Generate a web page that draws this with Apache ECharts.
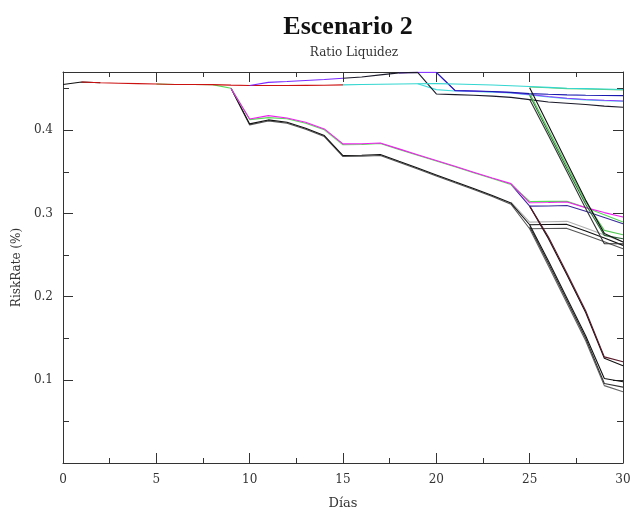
<!DOCTYPE html>
<html>
<head>
<meta charset="utf-8">
<script src="https://cdn.jsdelivr.net/npm/echarts@6/dist/echarts.min.js"></script>
<style>html,body{margin:0;padding:0;background:#fff}#c{width:643px;height:511px}</style>
</head>
<body>
<div id="c"></div>
<script>
var N = null;
var days = [0,1,2,3,4,5,6,7,8,9,10,11,12,13,14,15,16,17,18,19,20,21,22,23,24,25,26,27,28,29,30];
var xTicks = [0,5,10,15,20,25,30];
var yTicks = [0.1,0.2,0.3,0.4];

// common start (black) and top red branch
var blackStart = [0.455,0.458,0.457,N,N,N,N,N,N,N,N,N,N,N,N,N,N,N,N,N,N,N,N,N,N,N,N,N,N,N,N];
var redTop = [N,0.458,0.457,0.4565,0.456,0.4555,0.455,0.455,0.4548,0.4542,0.4538,0.4538,0.4538,0.4539,0.454,0.4545,N,N,N,N,N,N,N,N,N,N,N,N,N,N,N];
// middle group (drops at day 9-10)
var greenMid = [N,N,N,N,N,0.4555,0.455,0.455,0.4548,0.4504,0.4128,0.4152,0.4138,0.4085,0.4005,0.3826,0.3828,0.384,0.377,0.370,0.363,0.356,0.349,0.342,0.3348,0.3144,0.3145,0.3145,0.307,0.2985,0.2896];
var magentaMid = [N,N,N,N,N,N,N,N,N,0.4504,0.4136,0.4176,0.4148,0.4095,0.4016,0.3836,0.3838,0.3846,0.3776,0.3706,0.3636,0.3566,0.3496,0.3426,0.3358,0.3128,0.3132,0.3138,0.307,0.301,0.2956];
var purpleMid = [N,N,N,N,N,N,N,N,N,N,N,N,N,N,N,N,N,N,N,N,N,N,N,N,0.335,0.3088,0.309,0.3095,0.3025,0.295,0.2876];
var steepMu1 = [N,N,N,N,N,N,N,N,N,N,N,N,N,N,N,N,N,N,N,N,N,N,N,N,N,0.3088,0.272,0.228,0.183,0.1276,0.1216];
var steepMu2 = [N,N,N,N,N,N,N,N,N,N,N,N,N,N,N,N,N,N,N,N,N,N,N,N,N,0.3088,0.270,0.226,0.181,0.126,0.1168];
var grayMid1 = [N,N,N,N,N,N,N,N,N,0.4504,0.4076,0.4124,0.4096,0.4025,0.3936,0.3696,0.370,0.3708,0.3626,0.3545,0.3463,0.338,0.330,0.3215,0.3125,0.2864,0.2866,0.2868,0.279,0.2705,0.2616];
var grayMid2 = [N,N,N,N,N,N,N,N,N,0.4504,0.4064,0.4112,0.4084,0.4013,0.3924,0.3684,0.3688,0.3696,0.3614,0.3533,0.3451,0.3368,0.3288,0.3203,0.311,0.2816,0.2818,0.282,0.274,0.266,0.2576];
var grayMid3 = [N,N,N,N,N,N,N,N,N,N,N,N,N,N,N,N,N,N,N,N,N,N,N,N,0.3135,0.2896,0.290,0.2905,0.2825,0.274,0.266];
var steepMl1 = [N,N,N,N,N,N,N,N,N,N,N,N,N,N,N,N,N,N,N,N,N,N,N,N,N,0.2864,0.243,0.198,0.153,0.1016,0.0976];
var steepMl2 = [N,N,N,N,N,N,N,N,N,N,N,N,N,N,N,N,N,N,N,N,N,N,N,N,N,0.284,0.240,0.195,0.150,0.0956,0.0912];
var steepMl3 = [N,N,N,N,N,N,N,N,N,N,N,N,N,N,N,N,N,N,N,N,N,N,N,N,N,0.2816,0.237,0.192,0.147,0.093,0.0856];
// top group
var purpleTop = [N,N,N,N,N,N,N,N,N,N,0.4538,0.4575,0.4585,0.4598,0.461,0.4625,N,N,N,N,N,N,N,N,N,N,N,N,N,N,N];
var blackTop = [N,N,N,N,N,N,N,N,N,N,N,N,N,N,N,0.4625,0.464,0.4665,0.469,0.4695,0.4436,0.4428,0.442,0.441,0.4395,0.4368,0.434,0.4325,0.431,0.429,0.4276];
var purpleTop2 = [N,N,N,N,N,N,N,N,N,N,N,N,N,N,N,N,N,N,0.469,0.4695,0.4695,0.4476,0.447,0.4462,0.4452,0.443,0.4405,0.4385,0.437,0.436,0.4352];
var blueTop = [N,N,N,N,N,N,N,N,N,N,N,N,N,N,N,N,N,N,N,N,0.4695,0.4478,0.4472,0.4465,0.4455,0.444,0.4432,0.4425,0.442,0.4418,0.4416];
var cyanTop = [N,N,N,N,N,N,N,N,N,N,N,N,N,N,N,0.4545,0.455,0.4553,0.4556,0.4558,0.456,0.4555,0.455,0.4543,0.4535,0.4525,0.4515,0.4505,0.450,0.4495,0.449];
var greenTop = [N,N,N,N,N,N,N,N,N,N,N,N,N,N,N,N,N,N,N,N,N,N,N,N,N,0.452,0.451,0.450,0.4495,0.449,0.4485];
var cyan2Top = [N,N,N,N,N,N,N,N,N,N,N,N,N,N,N,N,N,N,N,0.4558,0.4488,0.4472,0.4465,0.4458,0.4448,0.4425,0.440,0.438,0.4365,0.4355,0.4348];
var steepT1 = [N,N,N,N,N,N,N,N,N,N,N,N,N,N,N,N,N,N,N,N,N,N,N,N,N,0.451,0.406,0.361,0.316,0.276,0.2656];
var steepT2 = [N,N,N,N,N,N,N,N,N,N,N,N,N,N,N,N,N,N,N,N,N,N,N,N,N,0.4445,0.401,0.357,0.314,0.2796,0.2744];
var steepT3 = [N,N,N,N,N,N,N,N,N,N,N,N,N,N,N,N,N,N,N,N,N,N,N,N,N,0.442,0.398,0.354,0.311,0.2736,0.2696];
var steepT4 = [N,N,N,N,N,N,N,N,N,N,N,N,N,N,N,N,N,N,N,N,N,N,N,N,N,0.437,0.394,0.350,0.306,0.2636,0.2636];

var lines = [
  [grayMid3,'#b0b0b0'],[grayMid2,'#555555'],[grayMid1,'#111111'],
  [steepMl3,'#666666'],[steepMl2,'#333333'],[steepMl1,'#111111'],
  [steepMu2,'#111111'],[steepMu1,'#5a1a2a'],
  [purpleMid,'#3a2a9a'],[greenMid,'#55dd55'],[magentaMid,'#ee22ee'],
  [blackStart,'#111111'],[redTop,'#cc1111'],[purpleTop,'#7a2aff'],
  [cyan2Top,'#44dddd'],[purpleTop2,'#8a3aff'],[blueTop,'#1a1ab0'],[blackTop,'#1a1a2a'],
  [greenTop,'#66cc66'],[cyanTop,'#33d6d0'],
  [steepT4,'#333333'],[steepT3,'#2a6a3a'],[steepT2,'#55cc55'],[steepT1,'#111111']
];

var series = lines.map(function(l){
  return {type:'line', xAxisIndex:0, yAxisIndex:0, symbol:'none', silent:true, animation:false,
    lineStyle:{color:l[1], width:1.1},
    data: days.map(function(d,i){ return [d, l[0][i]]; })};
});

var font = 'DejaVu Serif';
var axCol = '#333';
function xAx(pos, showLabel){
  return {type:'value', position:pos, min:0, max:30, interval:5,
    axisLine:{show:true, onZero:false, lineStyle:{color:axCol, width:1}},
    axisTick:{show:true, inside:true, length:10, lineStyle:{color:axCol}},
    minorTick:{show:true, splitNumber:2, length:5, lineStyle:{color:axCol}},
    splitLine:{show:false}, minorSplitLine:{show:false},
    axisLabel:{show:showLabel, fontFamily:font, fontSize:12, color:'#333', margin:11,
      formatter:function(v){ return xTicks.indexOf(v)>=0 ? String(v) : ''; }},
    name: showLabel ? 'Días' : '', nameLocation:'middle', nameGap:34,
    nameTextStyle:{fontFamily:font, fontSize:13, color:'#333'}};
}
function yAx(pos, major, showLabel){
  var ax = {type:'value', position:pos, min:0, max:0.47, interval: major?0.1:0.05,
    axisLine:{show:major, onZero:false, lineStyle:{color:axCol, width:1}},
    axisTick:{show:true, inside:true, length: major?10:6, lineStyle:{color:axCol},
      customValues: major ? [0,0.1,0.2,0.3,0.4] : [0.05,0.15,0.25,0.35,0.45]},
    splitLine:{show:false},
    axisLabel:{show:showLabel, fontFamily:font, fontSize:12, color:'#333', margin:10,
      customValues: yTicks,
      formatter:function(v){ return (v>0.05 && v<0.45) ? v.toFixed(1) : ''; }}};
  if (showLabel){
    ax.name = 'RiskRate (%)'; ax.nameLocation='middle'; ax.nameGap=36; ax.nameRotate=90;
    ax.nameTextStyle = {fontFamily:font, fontSize:12, color:'#333'};
  }
  return ax;
}

var chart = echarts.init(document.getElementById('c'), null, {renderer:'canvas'});
chart.setOption({
  animation:false,
  backgroundColor:'#ffffff',
  title:[
    {text:'Escenario 2', left:343, top:9, textAlign:'center',
     textStyle:{fontFamily:'Liberation Serif', fontSize:26, fontWeight:'bold', color:'#111'}},
    {text:'Ratio Liquidez', left:349, top:42, textAlign:'center',
     textStyle:{fontFamily:font, fontSize:12, fontWeight:'normal', color:'#333'}}
  ],
  grid:{left:63, right:20, top:72, bottom:48, containLabel:false, outerBoundsMode:'none'},
  xAxis:[xAx('bottom', true), xAx('top', false)],
  yAxis:[yAx('left', true, true), yAx('left', false, false), yAx('right', true, false), yAx('right', false, false)],
  series: series
});
</script>
</body>
</html>
